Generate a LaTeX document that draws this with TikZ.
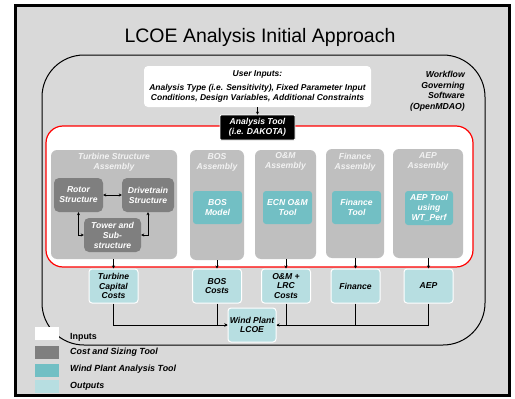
\documentclass[tikz,border=0pt]{standalone}
\usepackage{fontspec}
\setmainfont{Liberation Sans}
\usetikzlibrary{arrows.meta}
\definecolor{framebg}{HTML}{D9D9D9}
\definecolor{asmgray}{HTML}{BFBFBF}
\definecolor{darkgray}{HTML}{7F7F7F}
\definecolor{teal1}{HTML}{72BFC4}
\definecolor{teal2}{HTML}{B7DEE1}
\definecolor{asmtext}{HTML}{F2F2F2}
\definecolor{redline}{HTML}{FF0000}
\tikzset{
  txt/.style={font=\fontsize{8.5}{9.6}\selectfont\bfseries\itshape, align=center, inner sep=0pt},
  asm/.style={fill=asmgray, rounded corners=6pt, inner sep=0pt},
  asmtitle/.style={txt, text=asmtext, anchor=north, font=\fontsize{8.6}{10}\selectfont\bfseries\itshape},
  costtool/.style={txt, fill=darkgray, text=white, rounded corners=5pt, font=\fontsize{8.6}{10}\selectfont\bfseries\itshape},
  analysistool/.style={txt, fill=teal1, text=white, rounded corners=3pt, font=\fontsize{8.6}{9.6}\selectfont\bfseries\itshape},
  outbox/.style={txt, fill=teal2, draw=white, line width=1pt, rounded corners=3pt, font=\fontsize{8.6}{9.6}\selectfont\bfseries\itshape},
  conn/.style={line width=0.6pt, -{Stealth[length=3pt,width=3pt]}},
  plain/.style={line width=0.6pt},
  dconn/.style={line width=0.6pt, {Stealth[length=3pt,width=3pt]}-{Stealth[length=3pt,width=3pt]}},
  legbox/.style={inner sep=0pt, minimum width=24pt, minimum height=13pt},
  legtxt/.style={txt, anchor=west, font=\fontsize{8.9}{10}\selectfont\bfseries\itshape}
}
\begin{document}
\begin{tikzpicture}[x=1pt,y=-1pt]
\useasboundingbox (0,0) rectangle (515,399);
\fill[white] (0,0) rectangle (515,399);
% outer frame
\draw[fill=framebg, line width=3pt] (15,5) rectangle (509,395);
\node[font=\fontsize{19.5}{22}\selectfont] (title) at (260,37) {LCOE Analysis Initial Approach};
% workflow boundary
\draw[line width=1pt, rounded corners=42pt] (42,55) rectangle (485,345);
\node[txt, anchor=north east, align=right, font=\fontsize{8.7}{10.5}\selectfont\bfseries\itshape] (wf) at (465,71) {Workflow\\Governing\\Software\\(OpenMDAO)};
% user inputs
\node[txt, fill=white, rounded corners=4pt, minimum width=227pt, minimum height=41pt] (ui) at (257.5,86.5)
  {User Inputs:\\[4pt]Analysis Type (i.e. Sensitivity), Fixed Parameter Input\\Conditions, Design Variables, Additional Constraints};
% red analysis region
\draw[redline, fill=white, line width=1.2pt, rounded corners=17pt] (46,126) rectangle (473,267);
\node[txt, fill=black, text=white, draw=white, line width=0.8pt, rounded corners=1pt, minimum width=75pt, minimum height=25pt, font=\fontsize{8.6}{10.5}\selectfont\bfseries\itshape] (at) at (257.5,127.5) {Analysis Tool\\(i.e. DAKOTA)};
\draw[conn] (ui.south) -- (at.north);
% assemblies
\node[asm, minimum width=126pt, minimum height=109pt] (tsa) at (114,204.5) {};
\node[asmtitle] (tsat) at ([yshift=-3.5pt]tsa.north) {Turbine Structure\\Assembly};
\node[asm, minimum width=54pt, minimum height=110pt] (bosa) at (217,205) {};
\node[asmtitle] (bosat) at ([yshift=-3.5pt]bosa.north) {BOS\\Assembly};
\node[asm, minimum width=61pt, minimum height=109pt] (oma) at (285.5,204.5) {};
\node[asmtitle] (omat) at ([yshift=-2pt]oma.north) {O\&M\\Assembly};
\node[asm, minimum width=58pt, minimum height=109pt] (fina) at (355,203.5) {};
\node[asmtitle] (finat) at ([yshift=-4pt]fina.north) {Finance\\Assembly};
\node[asm, minimum width=70pt, minimum height=109pt] (aepa) at (428,203.5) {};
\node[asmtitle] (aepat) at ([yshift=-4pt]aepa.north) {AEP\\Assembly};
% cost and sizing tools
\node[costtool, minimum width=49pt, minimum height=34pt] (rotor) at (78.5,195) {Rotor\\Structure};
\node[costtool, minimum width=52pt, minimum height=34pt] (drive) at (148,195) {Drivetrain\\Structure};
\node[costtool, minimum width=57pt, minimum height=34pt] (tower) at (112.5,235) {Tower and\\Sub-\\structure};
\draw[dconn] (rotor.east) -- (drive.west);
\draw[dconn] (rotor.south) |- (tower.west);
\draw[dconn] (drive.south) |- (tower.east);
% analysis tools
\node[analysistool, minimum width=49pt, minimum height=33pt] (bosm) at (217.5,207.5) {BOS\\Model};
\node[analysistool, minimum width=49pt, minimum height=33pt] (ecn) at (287.5,207.5) {ECN O\&M\\Tool};
\node[analysistool, minimum width=49pt, minimum height=33pt] (fint) at (356.5,207.5) {Finance\\Tool};
\node[analysistool, minimum width=48pt, minimum height=34pt] (aept) at (429,208) {AEP Tool\\using\\WT\_Perf};
% outputs
\node[outbox, minimum width=49pt, minimum height=34pt] (tcc) at (113.5,286) {Turbine\\Capital\\Costs};
\node[outbox, minimum width=49pt, minimum height=34pt] (bosc) at (217,286) {BOS\\Costs};
\node[outbox, minimum width=49pt, minimum height=34pt] (omc) at (286,286) {O\&M +\\LRC\\Costs};
\node[outbox, minimum width=49pt, minimum height=34pt] (finc) at (355.5,286) {Finance};
\node[outbox, minimum width=49pt, minimum height=34pt] (aepc) at (428.5,286) {AEP};
\node[outbox, minimum width=48pt, minimum height=34pt] (lcoe) at (252,325) {Wind Plant\\LCOE};
% assembly to output arrows
\draw[conn] (tsa.south -| tcc.north) -- (tcc.north);
\draw[conn] (bosa.south -| bosc.north) -- (bosc.north);
\draw[conn] (oma.south -| omc.north) -- (omc.north);
\draw[conn] (fina.south -| finc.north) -- (finc.north);
\draw[conn] (aepa.south -| aepc.north) -- (aepc.north);
% outputs to LCOE
\draw[conn] (tcc.south) |- (lcoe.west);
\draw[conn] (bosc.south) |- (lcoe.west);
\draw[conn] (aepc.south) |- (lcoe.east);
\draw[plain] (finc.south) |- (lcoe.east);
\draw[plain] (omc.south) |- (lcoe.east);
% legend
\node[legbox, fill=white] (l1) at (47,333.5) {};
\node[legbox, fill=darkgray] (l2) at (47,352.5) {};
\node[legbox, fill=teal1] (l3) at (47,370.5) {};
\node[legbox, fill=teal2] (l4) at (47,386.5) {};
\node[legtxt, font=\fontsize{8.9}{10}\selectfont\bfseries] (t1) at (70,337) {Inputs};
\node[legtxt] (t2) at (70,352) {Cost and Sizing Tool};
\node[legtxt] (t3) at (70,369.5) {Wind Plant Analysis Tool};
\node[legtxt] (t4) at (70,386) {Outputs};
\end{tikzpicture}
\end{document}
